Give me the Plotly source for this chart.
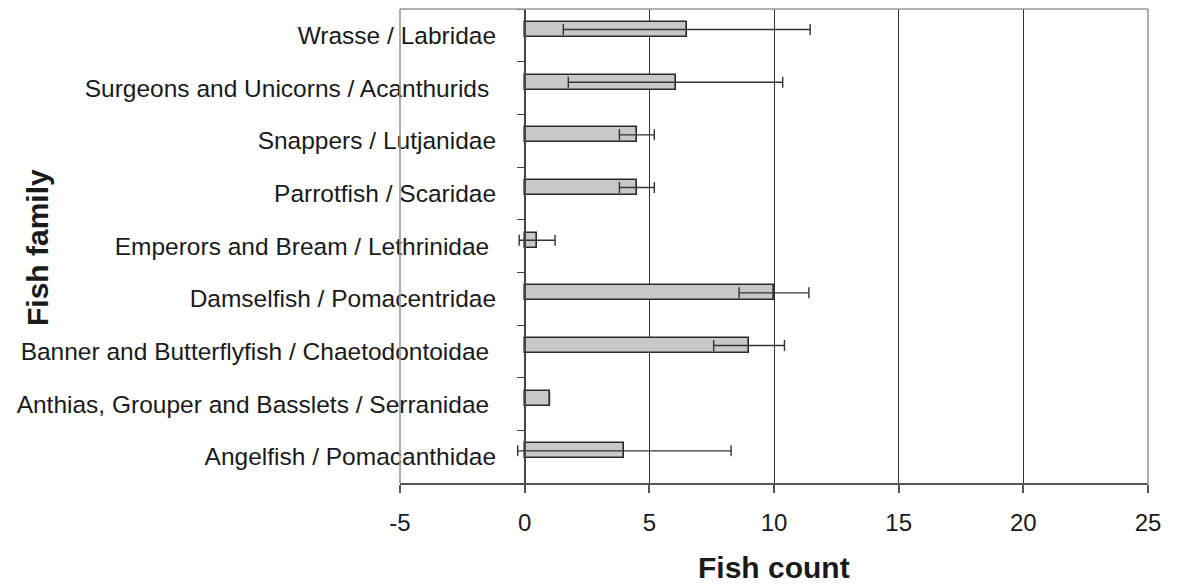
import plotly.graph_objects as go

categories = [
    "Angelfish / Pomacanthidae",
    "Anthias, Grouper and Basslets / Serranidae\u00a0",
    "Banner and Butterflyfish / Chaetodontoidae\u00a0",
    "Damselfish / Pomacentridae",
    "Emperors and Bream / Lethrinidae\u00a0",
    "Parrotfish / Scaridae",
    "Snappers / Lutjanidae",
    "Surgeons and Unicorns / Acanthurids\u00a0",
    "Wrasse / Labridae",
]
fish_count = [4.0, 1.0, 9.0, 10.0, 0.5, 4.5, 4.5, 6.05, 6.5]
error = [4.28, 0.0, 1.42, 1.4, 0.72, 0.7, 0.7, 4.3, 4.95]
x_ticks = [-5, 0, 5, 10, 15, 20, 25]
x_tick_text = ["-5", "0", "5", "10", "15", "20", "25"]

# page is rendered with an 8px body margin; work in page pixel coords
OFF = 8
W, H = 1183 - OFF, 587 - OFF
PL, PR, PT, PB = 400, 1148, 9, 483  # plot area in page pixels
ML, MR, MT, MB = PL - OFF, W - (PR - OFF), PT - OFF, H - (PB - OFF)
PW = W - ML - MR
PH = H - MT - MB


def px_x(p):
    return (p - OFF - ML) / PW


def px_y(p):
    return (H - MB - (p - OFF)) / PH


fig = go.Figure()
fig.add_trace(go.Bar(
    y=categories, x=fish_count, orientation="h",
    width=0.285, offset=-0.032,
    marker=dict(color="#c8c8c8", line=dict(color="#2a2a2a", width=1.6)),
    error_x=dict(type="data", array=error, visible=True,
                 color="#333333", thickness=1.4, width=5.5),
    showlegend=False,
))

zero_pos = (0 - x_ticks[0]) / (x_ticks[-1] - x_ticks[0])

fig.update_layout(
    width=W, height=H,
    margin=dict(l=ML, r=MR, t=MT, b=MB, autoexpand=False),
    paper_bgcolor="white", plot_bgcolor="white",
    font=dict(family="Liberation Sans, Arial, sans-serif", color="#1a1a1a"),
    xaxis=dict(
        range=[x_ticks[0], x_ticks[-1]], tickvals=x_ticks, ticktext=x_tick_text,
        showgrid=True, gridcolor="#333333", gridwidth=1,
        zeroline=False,
        showline=True, linecolor="#555555", linewidth=2,
        ticks="outside", ticklen=8, tickcolor="#555555", tickwidth=1.5,
        tickfont=dict(size=24),
        ticklabelstandoff=9,
    ),
    yaxis=dict(
        type="category", categoryorder="array", categoryarray=categories,
        range=[-0.5, len(categories) - 0.5],
        anchor="free", position=zero_pos,
        showgrid=False, zeroline=False,
        showline=True, linecolor="#444444", linewidth=1.5,
        ticks="outside", ticklen=7, tickcolor="#444444", tickwidth=1.2,
        tickson="boundaries",
        tickfont=dict(size=24.5),
        ticklabelstandoff=23,
    ),
    bargap=0,
)

# plot frame (left, top, right) in light gray
for x0, y0, x1, y1 in [(0, 0, 0, 1), (0, 1, 1, 1), (1, 0, 1, 1)]:
    fig.add_shape(type="line", xref="paper", yref="paper",
                  x0=x0, y0=y0, x1=x1, y1=y1,
                  line=dict(color="#999999", width=1.6))

# image border strip on the right
fig.add_shape(type="line", xref="paper", yref="paper", layer="above",
              x0=px_x(1178), x1=px_x(1178), y0=px_y(590), y1=px_y(0),
              line=dict(color="#00a0e3", width=4))

fig.add_annotation(text="Fish count", xref="paper", yref="paper",
                   x=0.5, y=px_y(567), xanchor="center", yanchor="middle",
                   showarrow=False,
                   font=dict(size=30, weight="bold", family="Liberation Sans, Arial"))
fig.add_annotation(text="Fish family", xref="paper", yref="paper",
                   x=px_x(38), y=px_y(248), xanchor="center", yanchor="middle",
                   textangle=-90, showarrow=False,
                   font=dict(size=30, weight="bold", family="Liberation Sans, Arial"))

fig.write_html("out.html")
